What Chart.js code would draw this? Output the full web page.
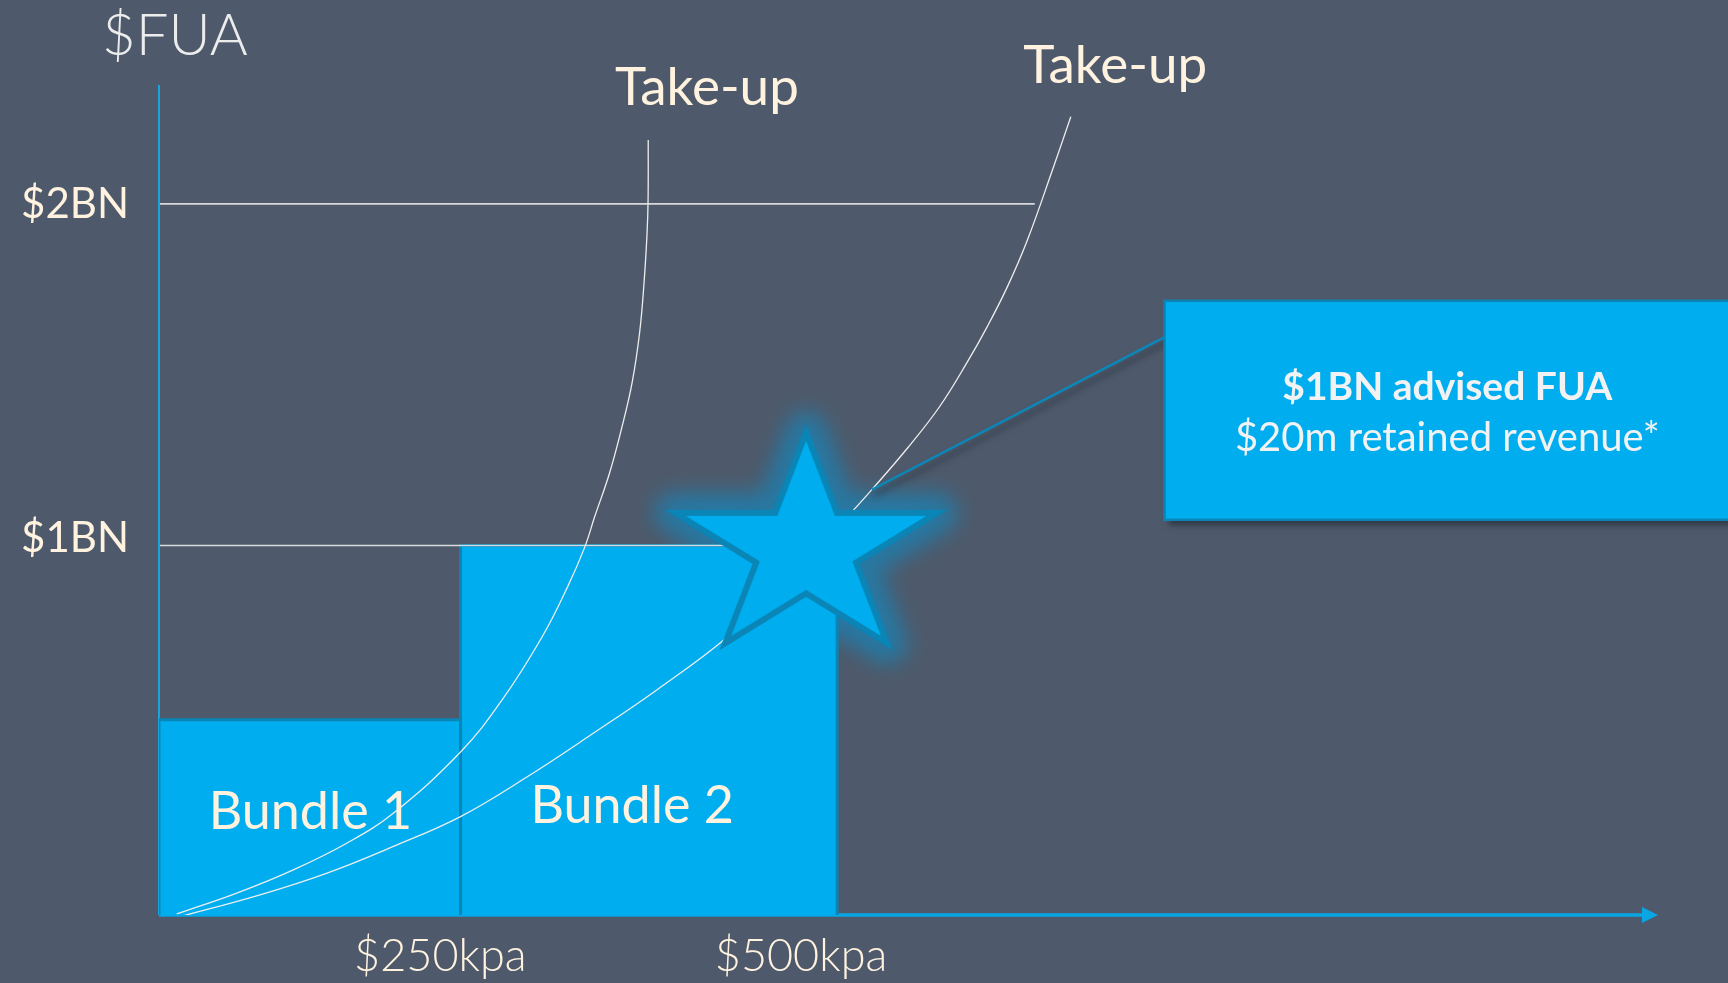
<!DOCTYPE html>
<html>
<head>
<meta charset="utf-8">
<script src="https://cdn.jsdelivr.net/npm/chart.js@4.4.1/dist/chart.umd.min.js"></script>
<style>
  html, body { margin: 0; padding: 0; background: #4e5a6b; }
  canvas { display: block; }
</style>
</head>
<body>
<canvas id="fua-chart" width="1728" height="983"></canvas>
<script>
// values (x in $k per annum, y in $BN of FUA)
const yTickValues = [1, 2];
const yTickLabels = ["$1BN", "$2BN"];
const xTickValues = [250, 500];
const xTickLabels = ["$250kpa", "$500kpa"];

const bundleNames = ["Bundle 1", "Bundle 2"];
const bundleStart = [55, 264];
const bundleEnd = [264, 525];
const bundleTop = [0.49, 1.0];

const takeUp1X = [67.3, 108.9, 148.1, 185.1, 217.4, 264, 292.7, 320.5, 338.1, 350.1, 356.9, 367.3, 375.9, 382.9, 388.1, 391.2, 393.3, 394, 394.1];
const takeUp1Y = [-0.079, -0.018, 0.05, 0.128, 0.216, 0.395, 0.547, 0.732, 0.878, 0.995, 1.083, 1.212, 1.347, 1.476, 1.622, 1.769, 1.915, 2.012, 2.187];
const takeUp2X = [67, 125, 171, 217, 264, 310, 356, 400, 449, 488, 536, 549, 574, 596, 615, 629, 643, 657, 675, 687];
const takeUp2Y = [-0.09, -0.023, 0.04, 0.118, 0.206, 0.322, 0.45, 0.577, 0.732, 0.89, 1.102, 1.163, 1.286, 1.406, 1.535, 1.64, 1.757, 1.895, 2.108, 2.255];

const starX = [503.5];
const starY = [0.99];
const calloutX = [549, 752];
const calloutY = [1.163, 1.61];

const gridEnds = [449, 662]; // where the $1BN and $2BN lines stop

const calloutTitle = "$1BN advised FUA";
const calloutText = "$20m retained revenue*";

// axis range
const xMin = 55, xMax = 1094;
const yMin = -0.082, yMax = 2.348;

// label anchors in data units / pixel nudges
const yLabelShift = [6.5, 14];
const bundleLabelAt = [[160, 0.17], [383, 0.187]];
const takeUpLabelAt = [[371, 2.29], [654, 2.354]];
const calloutBox = { left: 752, top: 1.716, bottom: 1.075 };

const BLUE = "#00aeef";
const DARK_BLUE = "#0a85b6";
const CREAM = "#fff3e0";

const STAR_R = 116.6, STAR_r = 44.5, STAR_SX = 1.18;

function toPoints(xs, ys) {
	return xs.map((x, i) => ({ x: x, y: ys[i] }));
}

function starPath(g) {
	g.beginPath();
	for (let i = 0; i < 10; i++) {
		let a = -Math.PI / 2 + (i * Math.PI) / 5;
		let rad = i % 2 ? STAR_r : STAR_R;
		let px = Math.cos(a) * rad * STAR_SX, py = Math.sin(a) * rad;
		i === 0 ? g.moveTo(px, py) : g.lineTo(px, py);
	}
	g.closePath();
}

function starCanvas(glow) {
	const pad = 70;
	const w = Math.ceil(2 * (STAR_R * Math.sin(Math.PI * 0.4) * STAR_SX + pad));
	const h = Math.ceil(2 * (STAR_R + pad));
	const c = document.createElement("canvas");
	c.width = w;
	c.height = h;
	const g = c.getContext("2d");
	g.translate(w / 2, h / 2);
	starPath(g);
	if (glow) {
		g.filter = "blur(10px)";
		g.lineJoin = "round";
		g.lineWidth = 42;
		g.strokeStyle = "rgba(38,122,165,0.92)";
		g.fillStyle = "rgba(38,122,165,0.92)";
		g.fill();
		g.stroke();
	} else {
		g.lineJoin = "miter";
		g.lineWidth = 6;
		g.strokeStyle = DARK_BLUE;
		g.fillStyle = BLUE;
		g.fill();
		g.stroke();
	}
	return c;
}

let datasets = [];

bundleNames.forEach((name, i) => {
	datasets.push({
		label: name,
		data: [
			{ x: bundleStart[i], y: yMin },
			{ x: bundleStart[i], y: bundleTop[i] },
			{ x: bundleEnd[i], y: bundleTop[i] },
			{ x: bundleEnd[i], y: yMin },
		],
		showLine: true,
		fill: "start",
		backgroundColor: BLUE,
		borderColor: DARK_BLUE,
		borderWidth: 3,
		pointRadius: 0,
		tension: 0,
		order: 5 - i,
	});
});

[toPoints(takeUp1X, takeUp1Y), toPoints(takeUp2X, takeUp2Y)].forEach((pts, i) => {
	datasets.push({
		label: "Take-up " + (i + 1),
		data: pts,
		showLine: true,
		fill: false,
		borderColor: "#eeeeee",
		borderWidth: 1.3,
		pointRadius: 0,
		tension: 0.4,
		order: 3,
	});
});

// glow sits behind the bars, the star itself on top
datasets.push({
	label: "star glow",
	data: toPoints(starX, starY),
	pointStyle: starCanvas(true),
	pointRadius: 10,
	order: 9,
});

datasets.push({
	label: "star",
	data: toPoints(starX, starY),
	pointStyle: starCanvas(false),
	pointRadius: 10,
	order: 1,
});

datasets.push({
	label: "callout",
	data: toPoints(calloutX, calloutY),
	showLine: true,
	fill: false,
	borderColor: "#0a88ba",
	borderWidth: 2.5,
	pointRadius: 0,
	order: 0,
});

const CALLOUT_INDEX = datasets.length - 1;

const overlay = {
	id: "overlay",
	beforeDatasetsDraw(chart) {
		const { ctx, chartArea: a } = chart;
		ctx.save();
		// y axis
		ctx.strokeStyle = "#14a6e0";
		ctx.lineWidth = 2;
		ctx.beginPath();
		ctx.moveTo(a.left, a.top);
		ctx.lineTo(a.left, a.bottom);
		ctx.stroke();
		// x axis with arrow
		ctx.strokeStyle = "#08a7e3";
		ctx.fillStyle = "#08a7e3";
		ctx.lineWidth = 3.5;
		ctx.beginPath();
		ctx.moveTo(a.left, a.bottom);
		ctx.lineTo(a.right - 14, a.bottom);
		ctx.stroke();
		ctx.beginPath();
		ctx.moveTo(a.right, a.bottom);
		ctx.lineTo(a.right - 16, a.bottom - 8);
		ctx.lineTo(a.right - 16, a.bottom + 8);
		ctx.closePath();
		ctx.fill();
		ctx.restore();
	},
	beforeDatasetDraw(chart, args) {
		if (args.index !== CALLOUT_INDEX) return;
		const ctx = chart.ctx;
		ctx.save();
		ctx.shadowColor = "rgba(20,25,35,0.6)";
		ctx.shadowBlur = 6;
		ctx.shadowOffsetX = 3;
		ctx.shadowOffsetY = 5;
	},
	afterDatasetDraw(chart, args) {
		const { ctx, chartArea: a, scales } = chart;
		if (args.index === CALLOUT_INDEX) {
			ctx.restore();
			return;
		}
		if (args.index !== 1) return;
		// grid lines for $1BN / $2BN, over the bars
		ctx.save();
		ctx.strokeStyle = "rgba(232,232,232,0.9)";
		ctx.lineWidth = 1.6;
		yTickValues.forEach((v, i) => {
			let y = scales.y.getPixelForValue(v);
			ctx.beginPath();
			ctx.moveTo(a.left + 1, y);
			ctx.lineTo(scales.x.getPixelForValue(gridEnds[i]), y);
			ctx.stroke();
		});
		ctx.restore();
	},
	afterDraw(chart) {
		const { ctx, chartArea: a, scales } = chart;
		const x = scales.x, y = scales.y;
		ctx.save();

		ctx.fillStyle = "#ececec";
		ctx.font = "300 58px Lato";
		ctx.textAlign = "left";
		ctx.textBaseline = "alphabetic";
		ctx.fillText("$FUA", a.left - 57, a.top - 30);

		ctx.fillStyle = CREAM;
		ctx.font = "400 42px Lato";
		ctx.textAlign = "right";
		yTickValues.forEach((v, i) => {
			ctx.fillText(yTickLabels[i], a.left - 30, y.getPixelForValue(v) + yLabelShift[i]);
		});

		ctx.font = "300 45px Lato";
		ctx.textAlign = "center";
		xTickValues.forEach((v, i) => {
			ctx.fillText(xTickLabels[i], x.getPixelForValue(v), a.bottom + 56);
		});

		ctx.font = "400 52px Lato";
		bundleNames.forEach((name, i) => {
			let p = bundleLabelAt[i];
			ctx.fillText(name, x.getPixelForValue(p[0]), y.getPixelForValue(p[1]));
		});

		ctx.font = "400 53px Lato";
		ctx.textAlign = "left";
		takeUpLabelAt.forEach((p) => {
			ctx.fillText("Take-up", x.getPixelForValue(p[0]), y.getPixelForValue(p[1]));
		});

		// callout box
		let bl = x.getPixelForValue(calloutBox.left);
		let bt = y.getPixelForValue(calloutBox.top);
		let bb = y.getPixelForValue(calloutBox.bottom);
		let br = chart.width + 2;
		ctx.save();
		ctx.shadowColor = "rgba(20,25,35,0.55)";
		ctx.shadowBlur = 6;
		ctx.shadowOffsetX = 4;
		ctx.shadowOffsetY = 5;
		ctx.fillStyle = BLUE;
		ctx.fillRect(bl, bt, br - bl, bb - bt);
		ctx.restore();
		ctx.strokeStyle = DARK_BLUE;
		ctx.lineWidth = 2.5;
		ctx.strokeRect(bl, bt, br - bl, bb - bt);

		let cx = (bl + br) / 2, cy = (bt + bb) / 2;
		ctx.fillStyle = "#f2f2f2";
		ctx.textAlign = "center";
		ctx.font = "700 39px Lato";
		ctx.fillText(calloutTitle, cx, cy - 10);
		ctx.font = "400 40px Lato";
		ctx.fillText(calloutText, cx, cy + 41);

		ctx.restore();
	},
};

const ctx = document.getElementById("fua-chart").getContext("2d");

new Chart(ctx, {
	type: "scatter",
	data: { datasets: datasets },
	options: {
		responsive: false,
		animation: false,
		events: [],
		layout: { padding: { left: 159, right: 70, top: 85, bottom: 68 } },
		scales: {
			x: { type: "linear", min: xMin, max: xMax, display: false },
			y: { type: "linear", min: yMin, max: yMax, display: false },
		},
		plugins: {
			legend: { display: false },
			tooltip: { enabled: false },
		},
	},
	plugins: [overlay],
});
</script>
</body>
</html>
